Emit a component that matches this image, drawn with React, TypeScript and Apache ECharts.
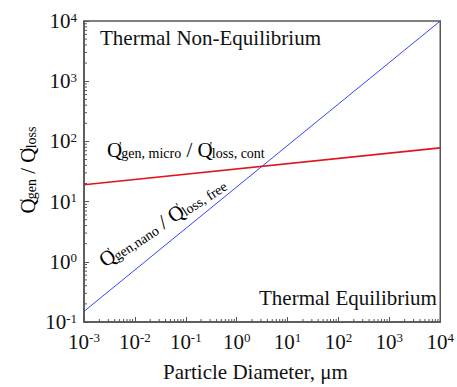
import React, { useEffect, useRef } from "react";
import * as echarts from "echarts";

// Particle diameter range (µm) as powers of ten
const xExponents = [-3, -2, -1, 0, 1, 2, 3, 4];
// Heat generation / loss ratio range as powers of ten
const yExponents = [-1, 0, 1, 2, 3, 4];

// Both ratios are straight lines in log-log space, given by their end points
const diameters = [1e-3, 1e4];
const nanoRatio = [0.15, 1e4];
const microRatio = [19, 78];

const FONT = "Liberation Serif";
const AXIS_COLOR = "#555";
const TEXT_COLOR = "#111";

// 2..9 × 10^d positions inside each decade, for the short log ticks
function minorValues(exps: number[]): number[] {
  const out: number[] = [];
  for (let i = 0; i < exps.length - 1; i++) {
    for (let k = 2; k <= 9; k++) out.push(k * Math.pow(10, exps[i]));
  }
  return out;
}

const powerLabel = (v: number) => {
  const e = Math.round(Math.log10(v));
  return `{b|10}{e|${e}}`;
};

const labelRich = {
  b: { fontSize: 21, fontFamily: FONT, color: TEXT_COLOR },
  e: { fontSize: 13, fontFamily: FONT, color: TEXT_COLOR, verticalAlign: "top" },
};

const ratioRich = {
  q: { fontSize: 21, fontFamily: FONT, color: TEXT_COLOR },
  p: { fontSize: 12, fontFamily: FONT, color: TEXT_COLOR, verticalAlign: "top", padding: [0, 0, 0, -3] },
  s: { fontSize: 14, fontFamily: FONT, color: TEXT_COLOR, verticalAlign: "bottom" },
};

// Q with a prime mark, as rich-text tokens
const Qp = "{q|Q}{p|'}";

export default function App() {
  const ref = useRef<HTMLDivElement>(null);

  useEffect(() => {
    // the chart fills the page from its top-left corner
    document.body.style.margin = "0";
    if (!ref.current) return;
    const chart = echarts.init(ref.current, null, { renderer: "svg" });

    const xMin = Math.pow(10, xExponents[0]);
    const xMax = Math.pow(10, xExponents[xExponents.length - 1]);
    const yMin = Math.pow(10, yExponents[0]);
    const yMax = Math.pow(10, yExponents[yExponents.length - 1]);

    const xMinor = minorValues(xExponents).map((v) => [v, yMin, 0]);
    const yMinor = minorValues(yExponents).map((v) => [xMin, v, 1]);

    chart.setOption({
      animation: false,
      grid: {
        left: 84,
        right: 14,
        top: 21,
        bottom: 65,
        show: true,
        borderColor: AXIS_COLOR,
        borderWidth: 1.5,
      },
      xAxis: {
        type: "log",
        min: xMin,
        max: xMax,
        axisLine: { show: true, lineStyle: { color: AXIS_COLOR, width: 1.5 } },
        axisTick: { show: true, inside: true, length: 5, lineStyle: { color: AXIS_COLOR, width: 1 } },
        splitLine: { show: false },
        axisLabel: {
          formatter: powerLabel,
          margin: 9,
          rich: labelRich,
          fontFamily: FONT,
          fontSize: 21,
          color: TEXT_COLOR,
        },
      },
      yAxis: {
        type: "log",
        min: yMin,
        max: yMax,
        axisLine: { show: true, lineStyle: { color: AXIS_COLOR, width: 1.5 } },
        axisTick: { show: true, inside: true, length: 5, lineStyle: { color: AXIS_COLOR, width: 1 } },
        splitLine: { show: false },
        axisLabel: {
          formatter: powerLabel,
          margin: 7,
          rich: labelRich,
          fontFamily: FONT,
          fontSize: 21,
          color: TEXT_COLOR,
        },
      },
      series: [
        {
          type: "custom",
          name: "minor ticks",
          data: [...xMinor, ...yMinor],
          silent: true,
          clip: false,
          renderItem: (_params: any, api: any) => {
            const p = api.coord([api.value(0), api.value(1)]);
            const vertical = api.value(2) === 0;
            return {
              type: "line",
              shape: vertical
                ? { x1: p[0], y1: p[1], x2: p[0], y2: p[1] - 3 }
                : { x1: p[0], y1: p[1], x2: p[0] + 3, y2: p[1] },
              style: { stroke: AXIS_COLOR, lineWidth: 1 },
            };
          },
          z: 2,
        },
        {
          type: "line",
          name: "nano",
          data: diameters.map((d, i) => [d, nanoRatio[i]]),
          showSymbol: false,
          lineStyle: { color: "#3344ff", width: 1 },
          z: 3,
        },
        {
          type: "line",
          name: "micro",
          data: diameters.map((d, i) => [d, microRatio[i]]),
          showSymbol: false,
          lineStyle: { color: "#e0141e", width: 1.6 },
          z: 4,
        },
      ],
      graphic: [
        {
          type: "text",
          x: 100,
          y: 27,
          style: { text: "Thermal Non-Equilibrium", fontSize: 21, fontFamily: FONT, fill: TEXT_COLOR },
        },
        {
          type: "text",
          x: 259,
          y: 287,
          style: { text: "Thermal Equilibrium", fontSize: 21, fontFamily: FONT, fill: TEXT_COLOR },
        },
        {
          type: "text",
          x: 163,
          y: 361,
          style: { text: "Particle Diameter, \u03bcm", fontSize: 21, fontFamily: FONT, fill: TEXT_COLOR },
        },
        {
          type: "text",
          x: 28,
          y: 170,
          rotation: Math.PI / 2,
          style: {
            text: `${Qp}{s|gen}{q| / }${Qp}{s|loss}`,
            rich: ratioRich,
            fontFamily: FONT,
            align: "center",
            verticalAlign: "middle",
          },
        },
        {
          type: "text",
          x: 107,
          y: 150,
          style: {
            text: `${Qp}{s|gen, micro}{q| / }${Qp}{s|loss, cont}`,
            rich: ratioRich,
            fontFamily: FONT,
            align: "left",
            verticalAlign: "middle",
          },
        },
        {
          type: "text",
          x: 101,
          y: 262,
          rotation: (33 * Math.PI) / 180,
          style: {
            text: `${Qp}{s|gen,nano}{q| / }${Qp}{s|loss, free}`,
            rich: ratioRich,
            fontFamily: FONT,
            align: "left",
            verticalAlign: "middle",
          },
        },
      ],
    });

    return () => chart.dispose();
  }, []);

  return <div ref={ref} style={{ width: 457, height: 387 }} />;
}
